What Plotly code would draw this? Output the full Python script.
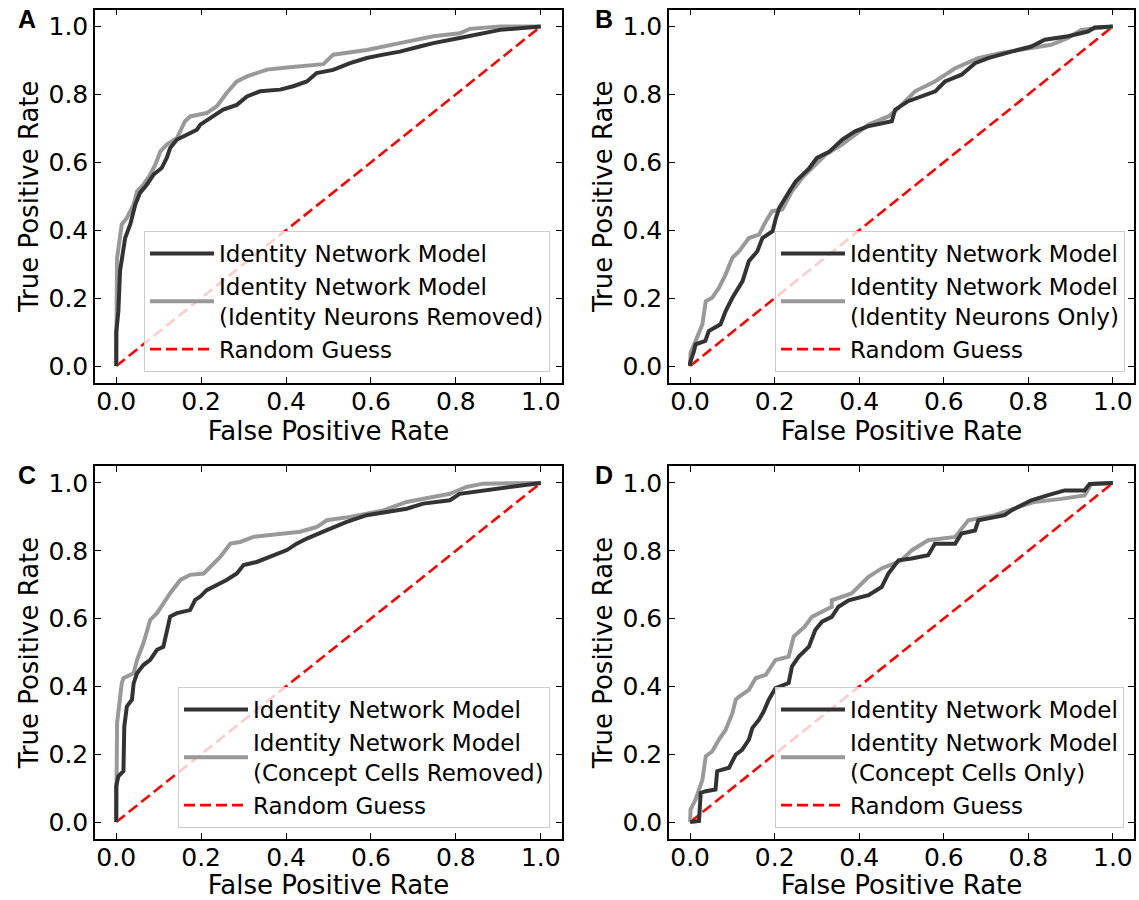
import plotly.graph_objects as go

W, H = 1139, 900

# ---------------- data ----------------
# Panel A
fpr_a_full = [0, 0, 0.005, 0.009, 0.021, 0.033, 0.045, 0.056, 0.072, 0.088, 0.107, 0.119, 0.127, 0.143, 0.158,
              0.19, 0.198, 0.221, 0.252, 0.284, 0.308, 0.339, 0.386, 0.417, 0.449, 0.472, 0.511, 0.551, 0.59,
              0.629, 0.668, 0.715, 0.747, 0.809, 0.864, 0.904, 1.0]
tpr_a_full = [0, 0.10, 0.16, 0.28, 0.377, 0.417, 0.476, 0.51, 0.534, 0.564, 0.583, 0.613, 0.642, 0.667, 0.676,
              0.696, 0.711, 0.730, 0.755, 0.769, 0.794, 0.809, 0.814, 0.824, 0.838, 0.863, 0.872, 0.892, 0.907,
              0.917, 0.926, 0.941, 0.951, 0.966, 0.980, 0.990, 1.0]
fpr_a_part = [0, 0, 0.002, 0.013, 0.025, 0.041, 0.049, 0.064, 0.08, 0.092, 0.104, 0.119, 0.143, 0.162, 0.174,
              0.213, 0.237, 0.26, 0.284, 0.308, 0.355, 0.402, 0.488, 0.511, 0.59, 0.668, 0.747, 0.809, 0.833,
              0.904, 1.0]
tpr_a_part = [0, 0.2, 0.318, 0.417, 0.436, 0.476, 0.515, 0.534, 0.564, 0.593, 0.632, 0.652, 0.671, 0.721, 0.735,
              0.745, 0.765, 0.804, 0.838, 0.853, 0.873, 0.879, 0.889, 0.917, 0.931, 0.951, 0.971, 0.980, 0.993,
              1.0, 1.0]

# Panel B
fpr_b_full = [0, 0.0, 0.009, 0.013, 0.036, 0.044, 0.072, 0.084, 0.1, 0.124, 0.139, 0.159, 0.171, 0.195, 0.203,
              0.211, 0.235, 0.25, 0.282, 0.3, 0.33, 0.36, 0.39, 0.42, 0.477, 0.485, 0.516, 0.556, 0.58, 0.603,
              0.642, 0.674, 0.705, 0.76, 0.807, 0.839, 0.894, 0.941, 0.957, 1.0]
tpr_b_full = [0, 0.01, 0.044, 0.064, 0.074, 0.103, 0.123, 0.162, 0.201, 0.25, 0.309, 0.338, 0.377, 0.397, 0.436,
              0.466, 0.515, 0.544, 0.583, 0.613, 0.632, 0.667, 0.691, 0.706, 0.721, 0.755, 0.78, 0.799, 0.809,
              0.838, 0.858, 0.892, 0.907, 0.926, 0.941, 0.961, 0.971, 0.985, 0.997, 1.0]
fpr_b_part = [0, 0.001, 0.013, 0.029, 0.037, 0.052, 0.068, 0.084, 0.1, 0.116, 0.139, 0.163, 0.179, 0.194, 0.218,
              0.241, 0.265, 0.288, 0.32, 0.359, 0.39, 0.422, 0.469, 0.493, 0.532, 0.579, 0.627, 0.681, 0.736,
              0.8, 0.854, 0.894, 0.925, 1.0]
tpr_b_part = [0, 0.039, 0.074, 0.123, 0.191, 0.201, 0.23, 0.27, 0.319, 0.338, 0.377, 0.387, 0.426, 0.456, 0.461,
              0.515, 0.554, 0.583, 0.622, 0.652, 0.681, 0.711, 0.735, 0.76, 0.809, 0.838, 0.877, 0.907, 0.922,
              0.936, 0.946, 0.966, 0.990, 1.0]

# Panel C
fpr_c_full = [0, 0, 0.005, 0.017, 0.019, 0.025, 0.037, 0.041, 0.049, 0.064, 0.08, 0.096, 0.111, 0.119, 0.127,
              0.143, 0.174, 0.186, 0.198, 0.213, 0.229, 0.26, 0.284, 0.3, 0.331, 0.37, 0.402, 0.425, 0.449,
              0.496, 0.543, 0.59, 0.629, 0.684, 0.723, 0.786, 0.809, 0.864, 0.943, 1.0]
tpr_c_full = [0, 0.106, 0.135, 0.15, 0.282, 0.341, 0.361, 0.409, 0.439, 0.463, 0.478, 0.508, 0.517, 0.557, 0.606,
              0.616, 0.625, 0.655, 0.665, 0.684, 0.694, 0.714, 0.733, 0.758, 0.767, 0.787, 0.802, 0.821, 0.836,
              0.861, 0.885, 0.905, 0.914, 0.924, 0.939, 0.949, 0.968, 0.978, 0.990, 1.0]
fpr_c_part = [0, 0, 0.002, 0.013, 0.017, 0.041, 0.049, 0.064, 0.08, 0.096, 0.111, 0.127, 0.151, 0.174, 0.206,
              0.221, 0.245, 0.269, 0.292, 0.323, 0.355, 0.433, 0.472, 0.496, 0.551, 0.629, 0.684, 0.786, 0.825,
              0.864, 1.0]
tpr_c_part = [0, 0.204, 0.292, 0.409, 0.424, 0.439, 0.478, 0.527, 0.596, 0.616, 0.645, 0.675, 0.714, 0.729, 0.733,
              0.753, 0.782, 0.821, 0.826, 0.841, 0.846, 0.856, 0.870, 0.890, 0.9, 0.919, 0.944, 0.968, 0.988,
              0.998, 1.0]

# Panel D
fpr_d_full = [0, 0.021, 0.025, 0.037, 0.06, 0.064, 0.092, 0.108, 0.123, 0.139, 0.147, 0.163, 0.174, 0.186, 0.202,
              0.233, 0.241, 0.257, 0.281, 0.296, 0.312, 0.335, 0.351, 0.375, 0.422, 0.453, 0.469, 0.493, 0.524,
              0.563, 0.579, 0.627, 0.642, 0.674, 0.682, 0.744, 0.76, 0.807, 0.847, 0.886, 0.933, 0.945, 1.0]
tpr_d_full = [0, 0.003, 0.086, 0.091, 0.096, 0.15, 0.16, 0.199, 0.213, 0.243, 0.277, 0.302, 0.326, 0.361, 0.395,
              0.41, 0.459, 0.488, 0.517, 0.566, 0.591, 0.605, 0.635, 0.654, 0.669, 0.693, 0.733, 0.772, 0.777,
              0.787, 0.821, 0.821, 0.851, 0.86, 0.89, 0.905, 0.919, 0.949, 0.964, 0.978, 0.978, 0.997, 1.0]
fpr_d_part = [0, 0.001, 0.013, 0.029, 0.037, 0.052, 0.068, 0.084, 0.1, 0.108, 0.116, 0.139, 0.155, 0.179, 0.202,
              0.233, 0.245, 0.271, 0.288, 0.303, 0.335, 0.335, 0.382, 0.422, 0.453, 0.5, 0.524, 0.563, 0.627,
              0.658, 0.721, 0.776, 0.815, 0.878, 0.933, 0.949, 1.0]
tpr_d_part = [0, 0.037, 0.067, 0.125, 0.194, 0.208, 0.243, 0.272, 0.321, 0.361, 0.37, 0.39, 0.424, 0.434, 0.478,
              0.488, 0.547, 0.576, 0.605, 0.615, 0.635, 0.654, 0.674, 0.723, 0.748, 0.772, 0.801, 0.831, 0.841,
              0.89, 0.905, 0.929, 0.944, 0.953, 0.963, 0.997, 1.0]

chance = [0, 1]
tick_vals = [0, 0.2, 0.4, 0.6, 0.8, 1.0]
tick_text = ["0.0", "0.2", "0.4", "0.6", "0.8", "1.0"]

panel_letters = ["A", "B", "C", "D"]
full_name = "Identity Network Model"
part_names = [
    "Identity Network Model<br>(Identity Neurons Removed)",
    "Identity Network Model<br>(Identity Neurons Only)",
    "Identity Network Model<br>(Concept Cells Removed)",
    "Identity Network Model<br>(Concept Cells Only)",
]
chance_name = "Random Guess"
x_title = "False Positive Rate"
y_title = "True Positive Rate"

panels = [
    (fpr_a_full, tpr_a_full, fpr_a_part, tpr_a_part),
    (fpr_b_full, tpr_b_full, fpr_b_part, tpr_b_part),
    (fpr_c_full, tpr_c_full, fpr_c_part, tpr_c_part),
    (fpr_d_full, tpr_d_full, fpr_d_part, tpr_d_part),
]

# ---------------- layout geometry (pixels) ----------------
col_x = [(95, 562), (669, 1134)]
row_y = [(9.5, 383), (466, 839)]
legend_anchor = [(550, 372), (1125, 372), (550, 828), (1124, 828)]
letter_pos = [(27, 19), (604, 19), (27, 475), (604, 475)]

FONT = "DejaVu Sans"
DARK = "#333333"
GRAY = "#999999"
RED = "#ff0000"

fig = go.Figure()

for i, (fx, fy, px, py) in enumerate(panels):
    n = i + 1
    xa = "x" if n == 1 else f"x{n}"
    ya = "y" if n == 1 else f"y{n}"
    lg = "legend" if n == 1 else f"legend{n}"
    fig.add_trace(go.Scatter(x=chance, y=chance, mode="lines", name=chance_name,
                             line=dict(color=RED, width=2.6, dash="11px,5px"),
                             xaxis=xa, yaxis=ya, legend=lg, legendrank=3))
    fig.add_trace(go.Scatter(x=px, y=py, mode="lines", name=part_names[i],
                             line=dict(color=GRAY, width=4),
                             xaxis=xa, yaxis=ya, legend=lg, legendrank=2))
    fig.add_trace(go.Scatter(x=fx, y=fy, mode="lines", name=full_name,
                             line=dict(color=DARK, width=4),
                             xaxis=xa, yaxis=ya, legend=lg, legendrank=1))

layout = dict(
    width=W, height=H,
    margin=dict(l=0, r=0, t=0, b=0),
    paper_bgcolor="white", plot_bgcolor="white",
    font=dict(family=FONT, size=23, color="black"),
    annotations=[],
)

for i in range(4):
    n = i + 1
    r, c = divmod(i, 2)
    x0, x1 = col_x[c]
    y0, y1 = row_y[r]
    xkey = "xaxis" if n == 1 else f"xaxis{n}"
    ykey = "yaxis" if n == 1 else f"yaxis{n}"
    xa = "x" if n == 1 else f"x{n}"
    ya = "y" if n == 1 else f"y{n}"
    common = dict(range=[-0.05, 1.05], tickvals=tick_vals, ticktext=tick_text,
                  ticks="inside", ticklen=6, tickwidth=1.3, tickcolor="black",
                  showline=True, linecolor="black", linewidth=1.5, mirror="ticks",
                  showgrid=False, zeroline=False, automargin=False,
                  tickfont=dict(family=FONT, size=25, color="black"), fixedrange=True)
    layout[xkey] = dict(common, domain=[x0 / W, x1 / W], anchor=ya, ticklabelstandoff=-5,
                        title=dict(text=x_title, font=dict(family=FONT, size=26), standoff=3))
    layout[ykey] = dict(common, domain=[1 - y1 / H, 1 - y0 / H], anchor=xa,
                        title=dict(text=y_title, font=dict(family=FONT, size=26), standoff=2))
    lx, ly = legend_anchor[i]
    lkey = "legend" if n == 1 else f"legend{n}"
    layout[lkey] = dict(x=lx / W, y=1 - ly / H, xanchor="right", yanchor="bottom",
                        bgcolor="rgba(255,255,255,0.8)", bordercolor="#cccccc", borderwidth=1,
                        font=dict(family=FONT, size=23, color="black"),
                        itemwidth=64, traceorder="normal", tracegroupgap=0)
    tx, ty = letter_pos[i]
    layout["annotations"].append(dict(text=f"<b>{panel_letters[i]}</b>", x=tx / W, y=1 - ty / H,
                                      xref="paper", yref="paper", showarrow=False,
                                      xanchor="center", yanchor="middle",
                                      font=dict(family="Liberation Sans", size=25, color="black")))

fig.update_layout(**layout)
fig.write_html("out.html")
